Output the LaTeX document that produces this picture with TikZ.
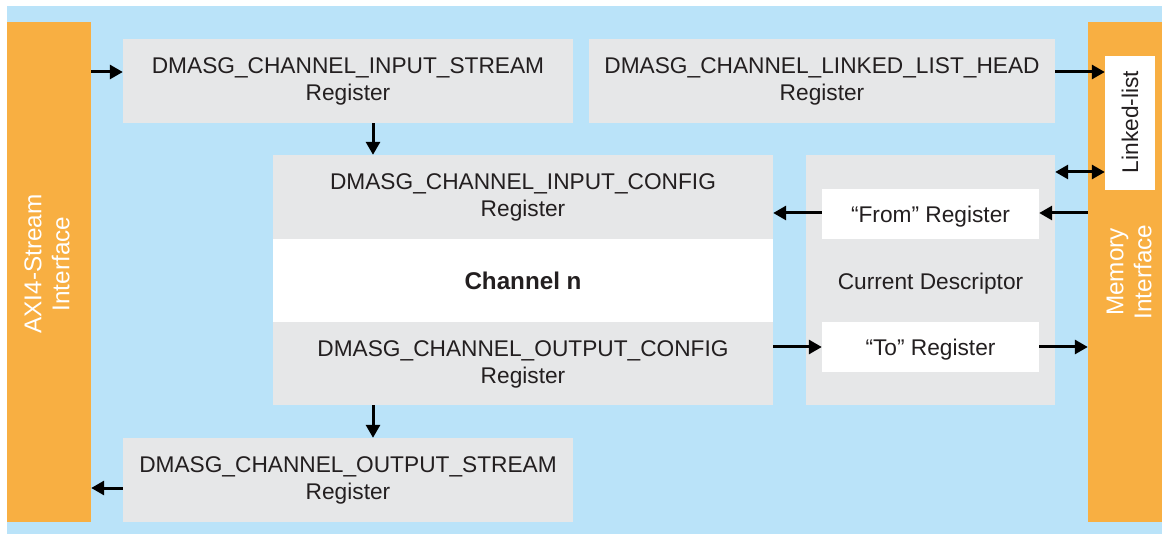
\documentclass[tikz,border=0pt]{standalone}
\usepackage{fontspec}
\setmainfont{Liberation Sans}
\usetikzlibrary{arrows.meta}
\definecolor{bgblue}{HTML}{BAE3F9}
\definecolor{orng}{HTML}{F8AF42}
\definecolor{gry}{HTML}{E6E7E8}
\definecolor{txt}{HTML}{231F20}
\tikzset{
  box/.style={fill=gry, inner sep=0pt, align=center, text=txt,
    font=\fontsize{22.7}{27}\selectfont},
  wbox/.style={box, fill=white},
  obox/.style={fill=orng, inner sep=0pt},
  lbl/.style={inner sep=0pt, align=center, text=txt,
    font=\fontsize{22.7}{27}\selectfont},
  vlbl/.style={rotate=90, inner sep=0pt, align=center, text=white,
    font=\fontsize{24.3}{28}\selectfont},
  oneline/.style={text height=16.3pt, text depth=0pt},
  arr/.style={line width=3pt, -{Triangle[length=13pt,width=14pt]}},
  darr/.style={line width=3pt, {Triangle[length=13pt,width=14pt]}-{Triangle[length=13pt,width=14pt]}}
}
\begin{document}
\begin{tikzpicture}[x=1pt,y=-1pt]
\useasboundingbox (0,0) rectangle (1162,534);
\fill[bgblue] (7,6) rectangle (1162,534);
% orange interfaces
\node[obox, minimum width=84pt, minimum height=500pt] (axi) at (49,272) {};
\node[obox, minimum width=74pt, minimum height=500pt] (mem) at (1125,272) {};
\node[vlbl] (axil) at (47,264) {AXI4-Stream\\Interface};
\node[vlbl] (meml) at (1129,272) {Memory\\Interface};
\node[wbox, minimum width=50pt, minimum height=134pt] (ll) at (1130,123) {};
\node[rotate=90, lbl, oneline] (lll) at (1130,122) {Linked-list};
% registers
\node[box, minimum width=450pt, minimum height=84pt] (instr) at (348,81)
  {DMASG\_CHANNEL\_INPUT\_STREAM\\Register};
\node[box, minimum width=466pt, minimum height=84pt] (llh) at (822,81)
  {DMASG\_CHANNEL\_LINKED\_LIST\_HEAD\\Register};
\node[box, minimum width=450pt, minimum height=84pt] (outstr) at (348,480)
  {DMASG\_CHANNEL\_OUTPUT\_STREAM\\Register};
% channel
\node[box, minimum width=500pt, minimum height=250pt] (chan) at (523,280) {};
\node[wbox, minimum width=500pt, minimum height=83pt, text height=17.4pt, text depth=0pt,
  font=\fontsize{24.2}{28}\selectfont\bfseries] (chmid) at (523,280.5)
  {Channel n};
\node[lbl] (incfg) at (523,197) {DMASG\_CHANNEL\_INPUT\_CONFIG\\Register};
\node[lbl] (outcfg) at (523,364) {DMASG\_CHANNEL\_OUTPUT\_CONFIG\\Register};
% current descriptor
\node[box, minimum width=249pt, minimum height=250pt] (cd) at (930.5,280) {};
\node[lbl, oneline] (cdl) at (930.5,281) {Current Descriptor};
\node[wbox, oneline, minimum width=217pt, minimum height=50pt] (from) at (930.5,214)
  {“From” Register};
\node[wbox, oneline, minimum width=217pt, minimum height=50pt] (to) at (930.5,347)
  {“To” Register};
% arrows
\draw[arr] (axi.east |- 0,72) -- (instr.west |- 0,72);
\draw[arr] (instr.south -| 373,0) -- (chan.north -| 373,0);
\draw[arr] (llh.east |- 0,72) -- (ll.west |- 0,72);
\draw[darr] (cd.east |- 0,172) -- (ll.west |- 0,172);
\draw[arr] (mem.west |- 0,213) -- (from.east |- 0,213);
\draw[arr] (from.west |- 0,213) -- (chan.east |- 0,213);
\draw[arr] (chan.east |- 0,347) -- (to.west |- 0,347);
\draw[arr] (to.east |- 0,347) -- (mem.west |- 0,347);
\draw[arr] (chan.south -| 373,0) -- (outstr.north -| 373,0);
\draw[arr] (outstr.west |- 0,488) -- (axi.east |- 0,488);
\end{tikzpicture}
\end{document}
